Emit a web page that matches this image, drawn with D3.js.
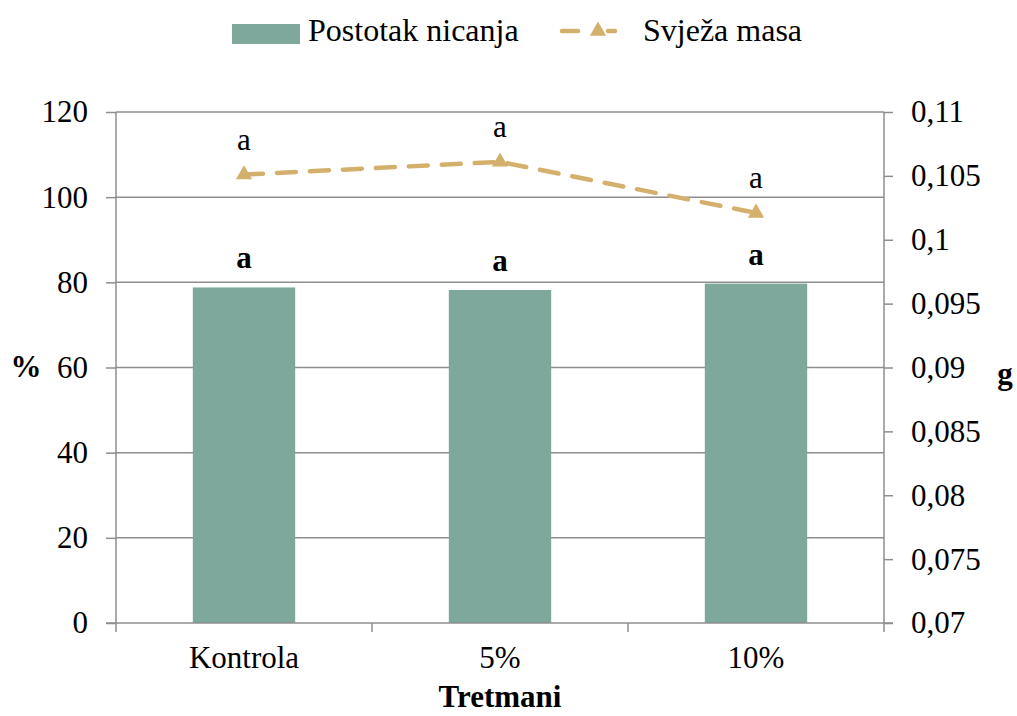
<!DOCTYPE html>
<html>
<head>
<meta charset="utf-8">
<script src="https://cdn.jsdelivr.net/npm/d3@7"></script>
<style>
  body { margin: 0; background: #fff; }
</style>
</head>
<body>
<div id="chart"></div>
<script>
// data
var categories = ["Kontrola", "5%", "10%"];
var nicanje = [78.8, 78.2, 79.7];          // Postotak nicanja (%)
var masa = [0.1051, 0.1061, 0.1021];        // Svježa masa (g)
var barLetters = ["a", "a", "a"];
var lineLetters = ["a", "a", "a"];
var leftTicks = [0, 20, 40, 60, 80, 100, 120];
var rightTicks = [0.07, 0.075, 0.08, 0.085, 0.09, 0.095, 0.1, 0.105, 0.11];

var width = 1017, height = 716;
var margin = {top: 112, right: 133, bottom: 93, left: 116};
var serif = "'Liberation Serif', serif";
var fs = "31px";

var barColor = "#7ea89c",
    lineColor = "#d4b06d",
    gridColor = "#8e8e8e";

var hr = d3.formatLocale({decimal: ",", thousands: ".", grouping: [3], currency: ["", " kn"]});
var fmtRight = hr.format(".3~f");

var svg = d3.select("#chart").append("svg")
  .attr("width", width)
  .attr("height", height)
  .style("font-family", serif);

var x = d3.scaleBand().domain(categories).range([margin.left, width - margin.right]).padding(0);
var y = d3.scaleLinear().domain([0, 120]).range([height - margin.bottom, margin.top]);
var y2 = d3.scaleLinear().domain([0.07, 0.11]).range([height - margin.bottom, margin.top]);

//gridlines
svg.append("g").attr("class", "grid").selectAll("line")
  .data(leftTicks.slice(1))
  .enter()
  .append("line")
  .attr("x1", margin.left)
  .attr("x2", width - margin.right)
  .attr("y1", function(d){ return y(d) })
  .attr("y2", function(d){ return y(d) })
  .attr("stroke", gridColor)
  .attr("stroke-width", 1.5)

//bars
var bw = x.bandwidth() * 0.4;
svg.append("g").selectAll("rect")
  .data(nicanje)
  .enter()
  .append("rect")
  .attr("x", function(d, i){ return x(categories[i]) + (x.bandwidth() - bw) / 2 })
  .attr("y", function(d){ return y(d) })
  .attr("width", bw)
  .attr("height", function(d){ return y(0) - y(d) })
  .attr("fill", barColor)

//axes
var leftAxis = svg.append("g")
  .attr("transform", "translate(" + margin.left + ",0)")
  .call(d3.axisLeft(y).tickValues(leftTicks).tickSize(10).tickPadding(18));

var rightAxis = svg.append("g")
  .attr("transform", "translate(" + (width - margin.right) + ",0)")
  .call(d3.axisRight(y2).tickValues(rightTicks).tickSize(9).tickPadding(18).tickFormat(fmtRight));

var bottomAxis = svg.append("g")
  .attr("transform", "translate(0," + y(0) + ")")
  .call(d3.axisBottom(x).tickSize(0).tickPadding(23));

// category boundary ticks
svg.append("g").selectAll("line")
  .data(categories.concat(["end"]))
  .enter()
  .append("line")
  .attr("x1", function(d, i){ return i < categories.length ? x(d) : x.range()[1] })
  .attr("x2", function(d, i){ return i < categories.length ? x(d) : x.range()[1] })
  .attr("y1", y(0))
  .attr("y2", y(0) + 9)
  .attr("stroke", gridColor)
  .attr("stroke-width", 1.5)

;[leftAxis, rightAxis, bottomAxis].forEach(function(a){
  a.style("font-family", serif).style("font-size", fs);
  a.selectAll(".domain").attr("stroke", gridColor).attr("stroke-width", 1.5);
  a.selectAll(".tick line").attr("stroke", gridColor).attr("stroke-width", 1.5);
  a.selectAll("text").style("font-family", serif).style("font-size", fs).attr("fill", "#000");
})
leftAxis.select(".domain").attr("d", "M0," + y(0) + "V" + y(120));
rightAxis.select(".domain").attr("d", "M0," + y(0) + "V" + y(120));
bottomAxis.select(".domain").attr("d", "M" + (margin.left - 10) + ",0H" + (width - margin.right + 9));

//line
var line = d3.line()
  .x(function(d, i){ return x(categories[i]) + x.bandwidth() / 2 })
  .y(function(d){ return y2(d) });

svg.append("path")
  .datum(masa)
  .attr("d", line)
  .attr("fill", "none")
  .attr("stroke", lineColor)
  .attr("stroke-width", 4.5)
  .attr("stroke-dasharray", "19,14")
  .attr("stroke-linecap", "round")

var tri = d3.symbol().type(d3.symbolTriangle).size(115);
svg.append("g").selectAll("path")
  .data(masa)
  .enter()
  .append("path")
  .attr("d", tri)
  .attr("transform", function(d, i){
    return "translate(" + (x(categories[i]) + x.bandwidth() / 2) + "," + y2(d) + ")"
  })
  .attr("fill", lineColor)

//letters
svg.append("g").selectAll("text")
  .data(barLetters)
  .enter()
  .append("text")
  .attr("x", function(d, i){ return x(categories[i]) + x.bandwidth() / 2 })
  .attr("y", function(d, i){ return y(nicanje[i]) - 19 })
  .attr("text-anchor", "middle")
  .style("font-family", serif)
  .style("font-size", fs)
  .style("font-weight", "bold")
  .text(function(d){ return d })

svg.append("g").selectAll("text")
  .data(lineLetters)
  .enter()
  .append("text")
  .attr("x", function(d, i){ return x(categories[i]) + x.bandwidth() / 2 })
  .attr("y", function(d, i){ return y2(masa[i]) - 25 })
  .attr("text-anchor", "middle")
  .style("font-family", serif)
  .style("font-size", fs)
  .text(function(d){ return d })

//axis titles
function title(tx, ty, s){
  svg.append("text").attr("x", tx).attr("y", ty).attr("text-anchor", "middle")
    .style("font-family", serif).style("font-size", fs).style("font-weight", "bold").text(s)
}
title(26, 377, "%")
title(1005, 384, "g")
title((margin.left + width - margin.right) / 2, 707, "Tretmani")

//legend
var legend = svg.append("g");
legend.append("rect").attr("x", 232).attr("y", 24).attr("width", 68).attr("height", 20).attr("fill", barColor)
legend.append("text").attr("x", 308).attr("y", 41).style("font-family", serif).style("font-size", "32px").text("Postotak nicanja")
legend.append("line").attr("x1", 562).attr("x2", 615).attr("y1", 31).attr("y2", 31)
  .attr("stroke", lineColor).attr("stroke-width", 4.5).attr("stroke-dasharray", "16,30").attr("stroke-linecap", "round")
legend.append("path").attr("d", tri).attr("transform", "translate(598,31)").attr("fill", lineColor)
legend.append("text").attr("x", 643).attr("y", 41).style("font-family", serif).style("font-size", "32px").text("Svježa masa")
</script>
</body>
</html>
